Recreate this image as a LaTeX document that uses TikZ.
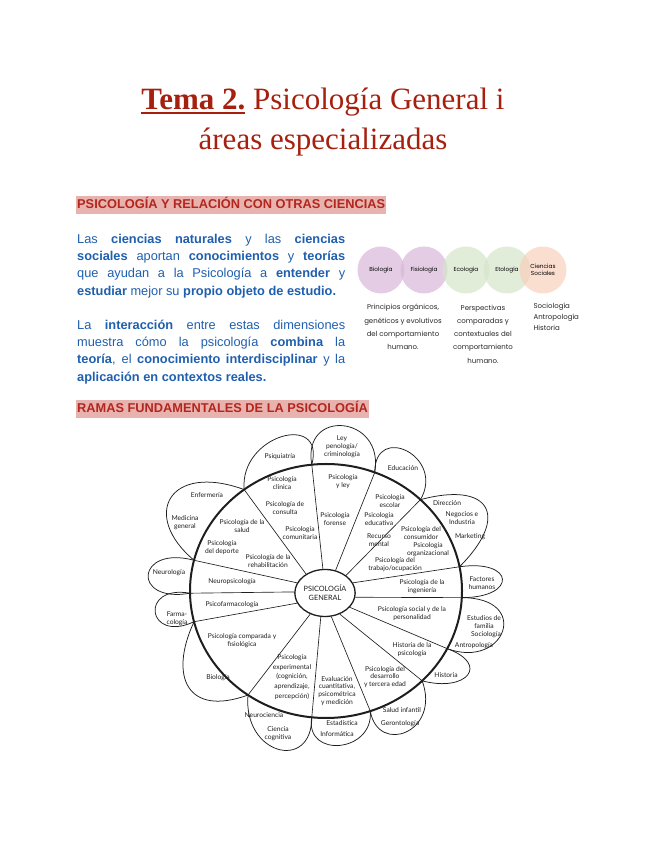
\documentclass[tikz,border=0pt]{standalone}
\usepackage{fontspec}
\setmainfont{Liberation Serif}
\setsansfont{Liberation Sans}
\newfontfamily\flowerfont{Lato}
\newfontfamily\vennfont{Poppins}
\usetikzlibrary{shapes.geometric}
\definecolor{titlered}{HTML}{A6200F}
\definecolor{headred}{HTML}{B3261E}
\definecolor{headpink}{HTML}{E8B3AF}
\definecolor{bodyblue}{HTML}{1F5FAE}
\definecolor{mauve}{HTML}{D8B8D8}
\definecolor{sage}{HTML}{D5E5C9}
\definecolor{peach}{HTML}{F8D0BC}
\definecolor{ink}{HTML}{1E1E1E}
\newcommand{\thickul}[1]{\setbox0\hbox{#1}\rlap{\rule[-3.6pt]{\wd0}{1.7pt}}\box0\relax}
\tikzset{
  heading/.style={anchor=west, fill=headpink, text=headred, font=\sffamily\bfseries\fontsize{12.8}{14}\selectfont, inner xsep=1pt, inner ysep=2.5pt, text height=9.3pt, text depth=2.8pt},
  para/.style={anchor=north west, text width=268pt, align=justify, text=bodyblue, inner sep=0pt, font=\sffamily\fontsize{12.8}{17.2}\selectfont},
  venn/.style={circle, minimum size=47pt, inner sep=0pt, fill opacity=0.7, text opacity=1, font=\vennfont\fontsize{5.8}{7.2}\selectfont, align=center},
  vdesc/.style={font=\vennfont\fontsize{7}{13.2}\selectfont, align=center, text=black!85},
  ftext/.style={font=\flowerfont\fontsize{6.7}{7.8}\selectfont, align=center, text=ink, inner sep=0pt},
  petal/.style={draw=ink, line width=0.75pt},
  spoke/.style={draw=ink, line width=0.65pt}
}
\begin{document}
\begin{tikzpicture}[x=1pt, y=1pt]
\useasboundingbox (0,0) rectangle (655,848);
% title
\node[anchor=base, text=titlered, font=\fontsize{31}{40}\selectfont] (title1) at (323,738) {\thickul{\textbf{Tema 2.}} Psicología General i};
\node[anchor=base, text=titlered, font=\fontsize{31}{40}\selectfont] (title2) at (323,698) {áreas especializadas};
% first section
\node[heading] (head1) at (76,643) {PSICOLOGÍA Y RELACIÓN CON OTRAS CIENCIAS};
\node[para] (par1) at (77,614) {Las \textbf{ciencias naturales} y las \textbf{ciencias}\linebreak \textbf{sociales} aportan \textbf{conocimientos} y \textbf{teorías}\linebreak que ayudan a la Psicología a \textbf{entender} y\linebreak \textbf{estudiar} mejor su \textbf{propio objeto de estudio.}};
\node[para] (par2) at (77,528) {La \textbf{interacción} entre estas dimensiones\linebreak muestra cómo la psicología \textbf{combina} la\linebreak \textbf{teoría}, el \textbf{conocimiento interdisciplinar} y la\linebreak \textbf{aplicación en contextos reales.}};
% venn row
\node[venn, fill=mauve] (v1) at (381,578) {Biología};
\node[venn, fill=mauve] (v2) at (424,578) {Fisiología};
\node[venn, fill=sage] (v3) at (466,578) {Ecología};
\node[venn, fill=sage] (v4) at (507,578) {Etología};
\node[venn, fill=peach] (v5) at (543,578) {Ciencias\\Sociales};
\node[vdesc] (d1) at (403,521) {Principios orgánicos,\\genéticos y evolutivos\\del comportamiento\\humano.};
\node[vdesc] (d2) at (483,514) {Perspectivas\\comparadas y\\contextuales del\\comportamiento\\humano.};
\node[vdesc, anchor=north west, align=left, font=\vennfont\fontsize{7}{11}\selectfont] (d3) at (530,548) {Sociología\\Antropología\\Historia};
% second section
\node[heading] (head2) at (76,439) {RAMAS FUNDAMENTALES DE LA PSICOLOGÍA};
% flower
\begin{scope}[shift={(326,257)}]
  \draw[ink, line width=2pt] (0,0) ellipse [x radius=136, y radius=127];
  \coordinate (p1) at (127:136pt and 127pt);
  \coordinate (p2) at (96:136pt and 127pt);
  \coordinate (p3) at (69:136pt and 127pt);
  \coordinate (p4) at (46:136pt and 127pt);
  \coordinate (p5) at (11:136pt and 127pt);
  \coordinate (p6) at (-3:136pt and 127pt);
  \coordinate (p7) at (-27:136pt and 127pt);
  \coordinate (p8) at (-45:136pt and 127pt);
  \coordinate (p9) at (-71:136pt and 127pt);
  \coordinate (p10) at (-96:136pt and 127pt);
  \coordinate (p11) at (-125:136pt and 127pt);
  \coordinate (p12) at (-166:136pt and 127pt);
  \coordinate (p13) at (-179:136pt and 127pt);
  \coordinate (p14) at (166:136pt and 127pt);
\end{scope}
\draw[petal] (p1) .. controls +(95:55) and +(75:55) .. (p2);
\draw[petal] (p2) .. controls +(100:58) and +(80:58) .. (p3);
\draw[petal] (p3) .. controls +(90:50) and +(60:50) .. (p4);
\draw[petal] (p4) .. controls +(15:72) and +(45:72) .. (p5);
\draw[petal] (p5) .. controls +(8:56) and +(0:56) .. (p6);
\draw[petal] (p6) .. controls +(0:70) and +(-20:62) .. (p7);
\draw[petal] (p7) .. controls +(-20:46) and +(-15:46) .. (p8);
\draw[petal] (p8) .. controls +(-70:55) and +(-80:45) .. (p9);
\draw[petal] (p9) .. controls +(-85:42) and +(-100:42) .. (p10);
\draw[petal] (p10) .. controls +(-90:55) and +(-95:60) .. (p11);
\draw[petal] (p11) .. controls +(-160:65) and +(-115:60) .. (p12);
\draw[petal] (p12) .. controls +(205:52) and +(170:52) .. (p13);
\draw[petal] (p13) .. controls +(190:60) and +(165:60) .. (p14);
\draw[petal] (p14) .. controls +(140:70) and +(160:80) .. (p1);
\node[ellipse, draw=ink, line width=1.3pt, fill=white, minimum width=55pt, minimum height=47pt, inner sep=0pt, align=center, text=ink, font=\flowerfont\fontsize{7.3}{9}\selectfont] (gen) at (325,255) {PSICOLOGÍA\\GENERAL};
\draw[spoke] (gen.135) -- (p1);
\draw[spoke] (gen.95) -- (p2);
\draw[spoke] (gen.65) -- (p3);
\draw[spoke] (gen.40) -- (p4);
\draw[spoke] (gen.20) -- (p5);
\draw[spoke] (gen.-8) -- (p6);
\draw[spoke] (gen.-30) -- (p7);
\draw[spoke] (gen.-55) -- (p8);
\draw[spoke] (gen.-75) -- (p9);
\draw[spoke] (gen.-100) -- (p10);
\draw[spoke] (gen.-125) -- (p11);
\draw[spoke] (gen.-160) -- (p12);
\draw[spoke] (gen.178) -- (p13);
\draw[spoke] (gen.160) -- (p14);
% petal labels
\node[ftext] (psiq) at (280,391) {Psiquiatría};
\node[ftext] (ley) at (342,401) {Ley\\penología/\\criminología};
\node[ftext] (educ) at (403,380) {Educación};
\node[ftext] (dir) at (447,345) {Dirección};
\node[ftext] (neg) at (462,330) {Negocios e\\Industria};
\node[ftext] (mark) at (470,311) {Marketing};
\node[ftext] (fact) at (482,264.5) {Factores\\humanos};
\node[ftext] (fam) at (484,226) {Estudios de\\familia};
\node[ftext] (soc) at (486,213) {Sociología};
\node[ftext] (antr) at (474,202) {Antropología};
\node[ftext] (hist) at (446,173) {Historia};
\node[ftext] (salud) at (402,138) {Salud infantil};
\node[ftext] (geron) at (400,124) {Gerontología};
\node[ftext] (estad) at (342,125) {Estadística};
\node[ftext] (inform) at (337,114) {Informática};
\node[ftext] (neuroc) at (264,133) {Neurociencia};
\node[ftext] (cienc) at (278,114) {Ciencia\\cognitiva};
\node[ftext] (bio) at (218,170) {Biología};
\node[ftext] (farma) at (177,229) {Farma-\\cología};
\node[ftext] (neurol) at (169,275) {Neurología};
\node[ftext] (enf) at (207,353) {Enfermería};
\node[ftext] (med) at (185,325) {Medicina\\general};
% inner labels
\node[ftext] (clin) at (282,365) {Psicología\\clínica};
\node[ftext] (cons) at (285,340) {Psicología de\\consulta};
\node[ftext] (comu) at (300,315) {Psicología\\comunitaria};
\node[ftext] (salu) at (242,322) {Psicología de la\\salud};
\node[ftext] (dep) at (222,300) {Psicología\\del deporte};
\node[ftext] (rehab) at (268,287) {Psicología de la\\rehabilitación};
\node[ftext] (leyps) at (343,366) {Psicología\\y ley};
\node[ftext] (foren) at (335,329) {Psicología\\forense};
\node[ftext] (esc) at (390,347) {Psicología\\escolar};
\node[ftext] (educa) at (379,329) {Psicología\\educativa};
\node[ftext] (recur) at (379,308) {Recurso\\mental};
\node[ftext] (consu) at (421,315) {Psicología del\\consumidor};
\node[ftext] (organ) at (428,298) {Psicología\\organizacional};
\node[ftext] (trab) at (395,283) {Psicología del\\trabajo/ocupación};
\node[ftext] (ingen) at (422,261) {Psicología de la\\ingeniería};
\node[ftext] (social) at (412,234.5) {Psicología social y de la\\personalidad};
\node[ftext] (histps) at (412,198) {Historia de la\\psicología};
\node[ftext] (desar) at (385,171) {Psicología del\\desarrollo\\y tercera edad};
\node[ftext] (evalu) at (337,157) {Evaluación\\cuantitativa,\\psicométrica\\y medición};
\node[ftext, font=\flowerfont\fontsize{6.7}{9.8}\selectfont] (exper) at (292,171) {Psicología\\experimental\\(cognición,\\aprendizaje,\\percepción)};
\node[ftext] (compar) at (242,207) {Psicología comparada y\\fisiológica};
\node[ftext] (pfarm) at (232,243) {Psicofarmacología};
\node[ftext] (neurop) at (232,266) {Neuropsicología};
\end{tikzpicture}
\end{document}
